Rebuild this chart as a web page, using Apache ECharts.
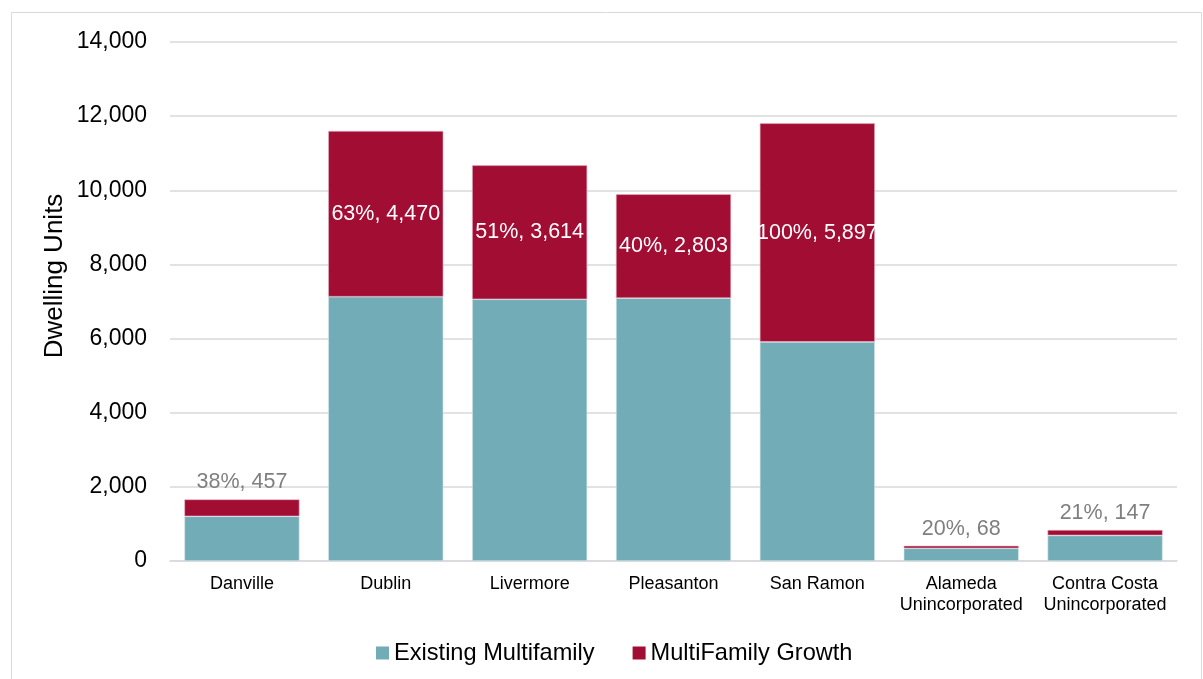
<!DOCTYPE html>
<html>
<head>
<meta charset="utf-8">
<script src="https://cdn.jsdelivr.net/npm/echarts@6/dist/echarts.min.js"></script>
<style>
  html, body { margin: 0; padding: 0; background: #fff; }
  #chart { width: 1203px; height: 679px; }
</style>
</head>
<body>
<div id="chart"></div>
<script>
var cities = ['Danville', 'Dublin', 'Livermore', 'Pleasanton', 'San Ramon',
  'Alameda\nUnincorporated', 'Contra Costa\nUnincorporated'];
var existing = [1205, 7130, 7060, 7090, 5910, 342, 690];
var growth = [457, 4470, 3614, 2803, 5897, 68, 147];
var growthPct = ['38%', '63%', '51%', '40%', '100%', '20%', '21%'];
var yTicks = [0, 2000, 4000, 6000, 8000, 10000, 12000, 14000];

var chart = echarts.init(document.getElementById('chart'));
var font = 'Liberation Sans, Arial, sans-serif';

var growthData = growth.map(function (v, i) {
  var small = v < 1000;
  return {
    value: v,
    label: {
      position: small ? 'top' : 'inside',
      color: small ? '#7f7f7f' : '#fff',
      distance: 6
    }
  };
});

chart.setOption({
  animation: false,
  graphic: [{
    type: 'rect',
    shape: { x: 11.5, y: 12.5, width: 1190, height: 700 },
    style: { fill: 'none', stroke: '#d9d9d9', lineWidth: 1 },
    silent: true
  }, {
    // y axis title, sits a bit above the plot centre as in the original
    type: 'text',
    x: 55,
    y: 276,
    rotation: Math.PI / 2,
    style: {
      text: 'Dwelling Units',
      font: '26px ' + font,
      fill: '#000',
      align: 'center',
      verticalAlign: 'middle'
    },
    silent: true
  }],
  grid: { left: 170, right: 26, top: 42, bottom: 118 },
  legend: {
    left: 371,
    top: 636,
    icon: 'rect',
    itemWidth: 13,
    itemHeight: 13,
    itemGap: 38,
    itemStyle: { borderWidth: 0 },
    textStyle: { fontFamily: font, fontSize: 23.6, color: '#000' },
    data: ['Existing Multifamily', 'MultiFamily Growth']
  },
  xAxis: {
    type: 'category',
    data: cities,
    axisLine: { lineStyle: { color: '#d9d9d9', width: 1.5 } },
    axisTick: { show: false },
    axisLabel: {
      fontFamily: font, fontSize: 18, color: '#000',
      lineHeight: 21, margin: 13, interval: 0
    }
  },
  yAxis: {
    type: 'value',
    min: yTicks[0],
    max: yTicks[yTicks.length - 1],
    interval: 2000,
    axisLine: { show: false },
    axisTick: { show: false },
    splitLine: { lineStyle: { color: '#d9d9d9', width: 1.5 } },
    axisLabel: {
      fontFamily: font, fontSize: 23, color: '#000', margin: 23,
      formatter: function (v) { return v.toLocaleString('en-US'); }
    }
  },
  series: [{
    name: 'Existing Multifamily',
    type: 'bar',
    stack: 'mf',
    barWidth: '80%',
    data: existing,
    itemStyle: { color: '#72adb7', borderColor: '#d6e8eb', borderWidth: 0.6 }
  }, {
    name: 'MultiFamily Growth',
    type: 'bar',
    stack: 'mf',
    barWidth: '80%',
    data: growthData,
    itemStyle: { color: '#a20d33', borderColor: '#e8b4c2', borderWidth: 0.6 },
    label: {
      show: true,
      fontFamily: font,
      fontSize: 21.5,
      formatter: function (p) {
        return growthPct[p.dataIndex] + ', ' + growth[p.dataIndex].toLocaleString('en-US');
      }
    }
  }]
});
</script>
</body>
</html>
